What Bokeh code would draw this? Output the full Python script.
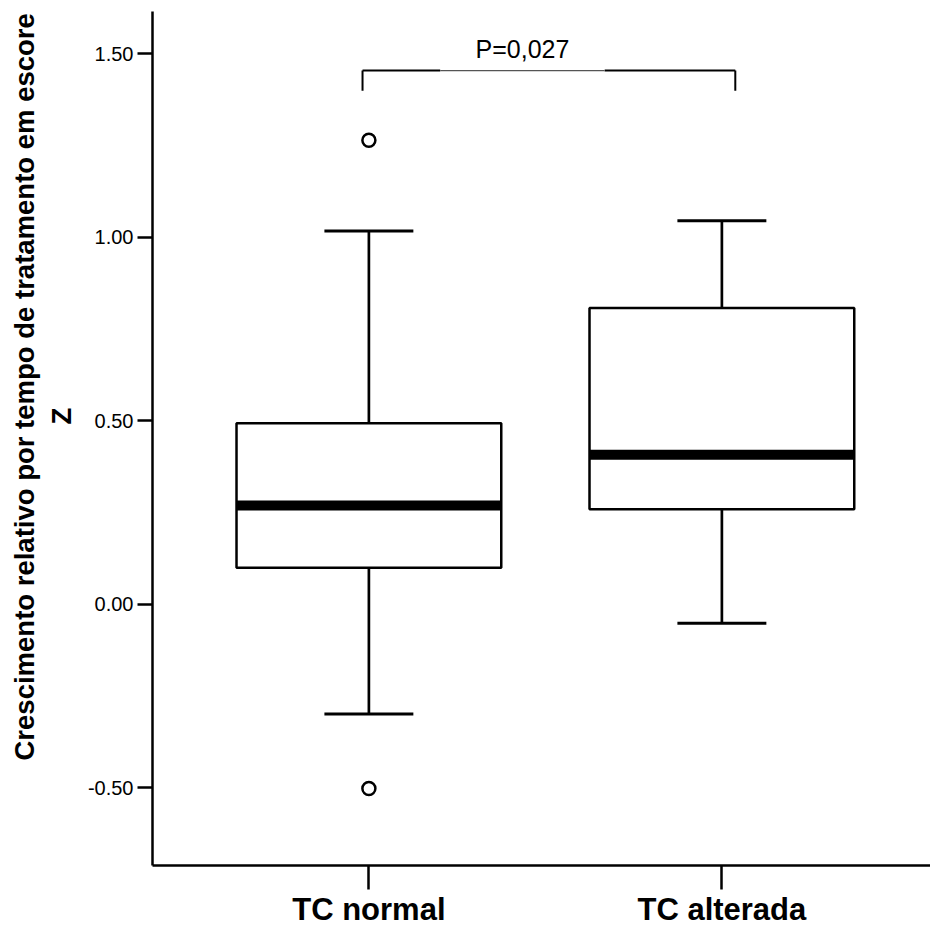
from bokeh.plotting import figure
from bokeh.models import Range1d, FixedTicker, NumeralTickFormatter, Title
from bokeh.core.properties import value
from bokeh.embed import file_html
from bokeh.resources import INLINE

# ---- data ----
categories = ["TC normal", "TC alterada"]
q1 = [0.099, 0.259]
median = [0.269, 0.407]
q3 = [0.493, 0.807]
whisker_low = [-0.299, -0.052]
whisker_high = [1.017, 1.045]
outlier_group = [0, 0]
outlier_values = [1.264, -0.502]
y_ticks = [-0.5, 0.0, 0.5, 1.0, 1.5]
p_label = "P=0,027"
bracket_level = 1.454
bracket_drop = 1.399
y_title = "Crescimento relativo por tempo de tratamento em escore"
y_title_2 = "Z"

FONT = "Liberation Sans"
xs = [i + 1 for i in range(len(categories))]
BOX_W = 0.75
CAP_W = 0.252
X0, X1 = 0.387, 2.591

p = figure(width=930, height=929, output_backend="svg", toolbar_location=None,
           x_range=Range1d(X0, X1), y_range=Range1d(-0.712, 1.615),
           min_border_left=152, min_border_right=0, min_border_top=11,
           min_border_bottom=64)
p.title.visible = False
p.outline_line_color = None
p.grid.visible = False
p.background_fill_color = "white"
p.border_fill_color = "white"

# y axis
ya = p.yaxis[0]
ya.ticker = FixedTicker(ticks=y_ticks)
ya.formatter = NumeralTickFormatter(format="0.00")
ya.major_tick_out = 15
ya.major_tick_in = 0
ya.minor_tick_out = 0
ya.minor_tick_in = 0
ya.axis_line_width = 2.5
ya.major_tick_line_width = 2.5
ya.axis_line_color = "black"
ya.major_tick_line_color = "black"
ya.major_label_text_font = FONT
ya.major_label_text_font_size = "20px"
ya.major_label_text_color = "black"
ya.major_label_standoff = 4

# x axis
xa = p.xaxis[0]
xa.ticker = FixedTicker(ticks=xs)
xa.major_label_overrides = {x: c for x, c in zip(xs, categories)}
xa.major_tick_out = 24
xa.major_tick_in = 0
xa.minor_tick_out = 0
xa.minor_tick_in = 0
xa.axis_line_width = 2.5
xa.major_tick_line_width = 2.5
xa.axis_line_color = "black"
xa.major_tick_line_color = "black"
xa.major_label_text_font = FONT
xa.major_label_text_font_size = "31px"
xa.major_label_text_font_style = "bold"
xa.major_label_text_color = "black"
xa.major_label_standoff = 2

# y-axis title (two lines) as side titles
t_z = Title(text=y_title_2, align="left", offset=441, vertical_align="top",
            standoff=12, text_font=FONT, text_font_size="27.5px",
            text_font_style="bold", text_color="black")
p.add_layout(t_z, "left")
t_main = Title(text=y_title, align="left", offset=105, vertical_align="bottom",
               standoff=0, text_font=FONT, text_font_size="27.5px",
               text_font_style="bold", text_color="black")
p.add_layout(t_main, "left")

# whiskers
p.segment(x0=xs, x1=xs, y0=q3, y1=whisker_high, line_color="black", line_width=2.7)
p.segment(x0=xs, x1=xs, y0=q1, y1=whisker_low, line_color="black", line_width=2.7)
p.segment(x0=[x - CAP_W / 2 for x in xs], x1=[x + CAP_W / 2 for x in xs],
          y0=whisker_high, y1=whisker_high, line_color="black", line_width=3)
p.segment(x0=[x - CAP_W / 2 for x in xs], x1=[x + CAP_W / 2 for x in xs],
          y0=whisker_low, y1=whisker_low, line_color="black", line_width=3)

# boxes
p.vbar(x=xs, width=BOX_W, top=q3, bottom=q1, fill_color="white",
       line_color="black", line_width=2.5)
# medians
p.segment(x0=[x - BOX_W / 2 for x in xs], x1=[x + BOX_W / 2 for x in xs],
          y0=median, y1=median, line_color="black", line_width=10)

# outliers
p.scatter(x=[xs[g] for g in outlier_group], y=outlier_values, marker="circle",
          size=13, fill_color="white", line_color="black", line_width=2.5)

# significance bracket
b_left = xs[0] - 0.018
b_right = xs[1] + 0.038
t_x = 1.435
gap = 0.233
p.segment(x0=[b_left, t_x + gap], x1=[t_x - gap, b_right],
          y0=[bracket_level] * 2, y1=[bracket_level] * 2,
          line_color="black", line_width=2)
p.segment(x0=[t_x - gap], x1=[t_x + gap], y0=[bracket_level], y1=[bracket_level],
          line_color="#555555", line_width=1.2)
p.segment(x0=[b_left, b_right], x1=[b_left, b_right],
          y0=[bracket_level] * 2, y1=[bracket_drop] * 2,
          line_color="black", line_width=2)
p.text(x=[t_x], y=[1.512], text=[p_label], text_font=value(FONT),
       text_font_size="25px", text_align="center", text_baseline="alphabetic",
       text_color="black")

open("out.html", "w").write(file_html(p, INLINE))
